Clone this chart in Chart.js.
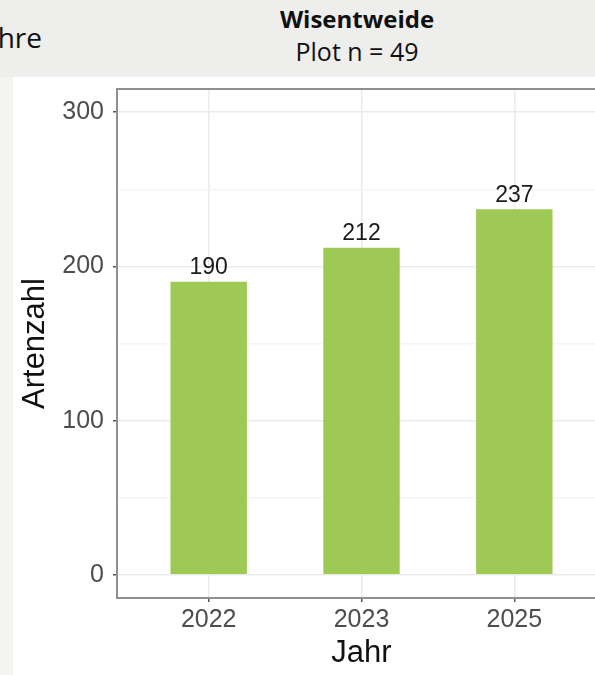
<!DOCTYPE html>
<html>
<head>
<meta charset="utf-8">
<script src="https://cdn.jsdelivr.net/npm/chart.js@4"></script>
<style>
  html, body { margin: 0; padding: 0; }
  body { width: 595px; height: 675px; overflow: hidden; position: relative; background: #eeeeec; font-family: "Open Sans", sans-serif; }
  #strip { position: absolute; left: 0; top: 77px; width: 13px; height: 598px; background: #f3f3f2; }
  #plotbg { position: absolute; left: 13px; top: 77px; width: 600px; height: 598px; background: #ffffff; }
  #chart { position: absolute; left: 13px; top: 77px; }
  .txt { position: absolute; color: #111; white-space: nowrap; }
  #prev { right: 553px; top: 21px; font-size: 28px; line-height: 32px; }
  #t1 { left: 257px; width: 200px; text-align: center; top: 4px; font-size: 24px; font-weight: bold; line-height: 30px; }
  #t2 { left: 257px; width: 200px; text-align: center; top: 36px; font-size: 25px; line-height: 30px; }
</style>
</head>
<body>
<div id="strip"></div>
<div id="plotbg"></div>
<div class="txt" id="prev">hre</div>
<div class="txt" id="t1">Wisentweide</div>
<div class="txt" id="t2">Plot n = 49</div>
<canvas id="chart" width="600" height="598"></canvas>
<script>
  var years = ['2022', '2023', '2025'];
  var counts = [190, 212, 237];
  var yTicks = [0, 50, 100, 150, 200, 250, 300];

  var barColor = '#9dc954';

  // panel border like theme_bw
  var panelBorder = {
    id: 'panelBorder',
    afterDraw: function(chart) {
      var a = chart.chartArea, ctx = chart.ctx;
      ctx.save();
      ctx.strokeStyle = '#8f8f8f';
      ctx.lineWidth = 2;
      ctx.strokeRect(a.left, a.top, a.right - a.left, a.bottom - a.top);
      ctx.restore();
    }
  };

  // value labels above the bars
  var barLabels = {
    id: 'barLabels',
    afterDatasetsDraw: function(chart) {
      var ctx = chart.ctx;
      var meta = chart.getDatasetMeta(0);
      ctx.save();
      ctx.font = '23px "Liberation Sans", Arial, sans-serif';
      ctx.fillStyle = '#1a1a1a';
      ctx.textAlign = 'center';
      ctx.textBaseline = 'middle';
      meta.data.forEach(function(bar, i) {
        ctx.fillText(String(counts[i]), bar.x, bar.y - 14);
      });
      ctx.restore();
    }
  };

  var tickFont = { family: '"Liberation Sans", Arial, sans-serif', size: 25 };
  var titleFont = { family: '"Liberation Sans", Arial, sans-serif', size: 31 };

  function noPad(scale) {
    scale.paddingTop = 0; scale.paddingBottom = 0;
    scale.paddingLeft = 0; scale.paddingRight = 0;
  }

  new Chart(document.getElementById('chart'), {
    type: 'bar',
    data: {
      datasets: [{
        data: counts.map(function(v, i) { return { x: i + 1, y: v }; }),
        backgroundColor: barColor,
        borderWidth: 0,
        barPercentage: 0.5,
        categoryPercentage: 1
      }]
    },
    options: {
      responsive: false,
      animation: false,
      layout: { padding: { top: 12, right: 7, left: 0, bottom: 0 } },
      plugins: { legend: { display: false }, tooltip: { enabled: false } },
      scales: {
        x: {
          type: 'linear',
          min: 0.4,
          max: 3.6,
          offset: false,
          afterBuildTicks: function(scale) {
            scale.ticks = years.map(function(_, i) { return { value: i + 1 }; });
          },
          afterFit: function(scale) { scale.height = 77; noPad(scale); },
          grid: { offset: false, color: '#ebebeb', lineWidth: 1.5, tickLength: 4, tickColor: '#555', drawTicks: true },
          border: { display: false },
          ticks: {
            font: tickFont, color: '#4d4d4d', padding: 3, maxRotation: 0,
            callback: function(v) { return years[v - 1]; }
          },
          title: { display: true, text: 'Jahr', font: titleFont, color: '#111', padding: { top: 0, bottom: 3 } }
        },
        y: {
          min: -15,
          max: 315,
          afterBuildTicks: function(scale) {
            scale.ticks = yTicks.map(function(v) { return { value: v }; });
          },
          afterFit: function(scale) { scale.width = 104; noPad(scale); },
          grid: {
            color: function(c) { return c.tick && c.tick.value % 100 === 0 ? '#ebebeb' : '#f5f5f5'; },
            lineWidth: 1.5,
            tickLength: 4,
            tickColor: function(c) { return c.tick && c.tick.value % 100 === 0 ? '#555' : 'rgba(0,0,0,0)'; }
          },
          border: { display: false },
          ticks: {
            font: tickFont, color: '#4d4d4d', padding: 9,
            callback: function(v) { return v % 100 === 0 ? String(v) : ''; }
          },
          title: { display: true, text: 'Artenzahl', font: titleFont, color: '#111', padding: { top: 4, bottom: 0 } }
        }
      }
    },
    plugins: [panelBorder, barLabels]
  });
</script>
</body>
</html>
